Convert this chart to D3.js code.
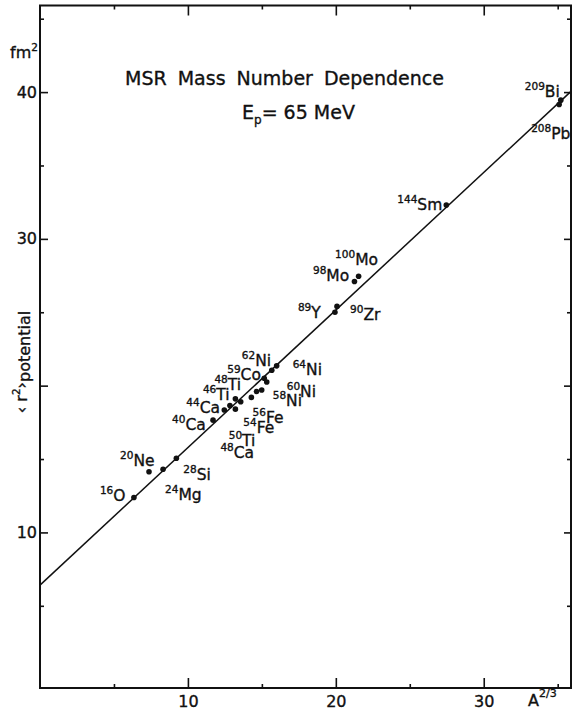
<!DOCTYPE html>
<html>
<head>
<meta charset="utf-8">
<script src="https://cdn.jsdelivr.net/npm/d3@7/dist/d3.min.js"></script>
<style>
  html, body { margin: 0; padding: 0; background: #fff; }
  svg { display: block; }
  text { font-family: "DejaVu Sans", sans-serif; fill: #111; stroke: #111; stroke-width: 0.35px; }
</style>
</head>
<body>
<svg id="chart" width="573" height="711"></svg>
<script>
// Nuclei measured at Ep = 65 MeV: mass number, element, A^(2/3), <r^2> of the potential (fm^2)
const massNumbers = [16, 20, 24, 28, 40, 44, 46, 48, 48, 50, 54, 56, 58, 59, 60, 62, 64, 89, 90, 98, 100, 144, 208, 209];
const elements    = ["O", "Ne", "Mg", "Si", "Ca", "Ca", "Ti", "Ti", "Ca", "Ti", "Fe", "Fe", "Ni", "Co", "Ni", "Ni", "Ni", "Y", "Zr", "Mo", "Mo", "Sm", "Pb", "Bi"];
const a23Values   = [6.35, 7.37, 8.32, 9.22, 11.70, 12.46, 12.84, 13.21, 13.21, 13.57, 14.29, 14.64, 14.99, 15.16, 15.33, 15.67, 16.00, 19.94, 20.08, 21.26, 21.54, 27.47, 35.10, 35.21];
const r2Values    = [12.38, 14.13, 14.3, 15.05, 17.65, 18.34, 18.65, 19.1, 18.4, 18.9, 19.2, 19.6, 19.7, 20.5, 20.25, 21.05, 21.35, 25.0, 25.4, 27.1, 27.45, 32.3, 39.15, 39.45];

// Straight-line fit through the points: [A^(2/3), <r^2>] at both ends
const fitLine = [[0, 6.41], [35.9, 40.05]];

// Axis ticks; the 20 fm^2 tick carries no number (the axis title sits there)
const xMajorTicks = [10, 20, 30];
const xMinorTicks = [5, 15, 25, 35];
const yMajorTicks = [10, 20, 30, 40];
const yTickLabels = ["10", "", "30", "40"];
const yMinorTicks = [5, 15, 25, 35, 45];

// Label placement relative to each point (px): dx, dy, anchor
const labelPlacement = [
  [-34, 3.5, "start"], [-29, -6, "start"], [2, 31, "start"], [7, 22, "start"],
  [-41, 10, "start"], [-38, 3, "start"], [-27, -5.5, "start"], [-21, -9, "start"],
  [-15, 49, "start"], [-12, 44, "start"], [-8, 35.5, "start"], [-4, 31, "start"],
  [11, 16, "start"], [-37, 2, "start"], [20, 15, "start"], [-30, -4, "start"],
  [16, 9, "start"], [-37, 6, "start"], [13, 14, "start"], [-41.5, 0, "start"],
  [-23.5, -11, "start"], [-4, 5, "end"], [-28, 34, "start"], [-36, -3, "start"]
];

const svg = d3.select("#chart");
const plotLeft = 40, plotRight = 571, plotTop = 5.5, plotBottom = 688;

const x = d3.scaleLinear().domain([0, 35.9]).range([plotLeft, plotRight]);
const y = d3.scaleLinear().domain([-0.6, 45.9]).range([plotBottom, plotTop]);

// Frame
svg.append("rect")
  .attr("x", plotLeft).attr("y", plotTop)
  .attr("width", plotRight - plotLeft).attr("height", plotBottom - plotTop)
  .attr("fill", "none").attr("stroke", "#111").attr("stroke-width", 2);

function styleAxis(g) {
  g.select(".domain").remove();
  g.selectAll(".tick line").attr("stroke", "#111").attr("stroke-width", 1.6);
  g.selectAll(".tick text").attr("font-size", 16).attr("fill", "#111")
    .attr("font-family", "DejaVu Sans, sans-serif");
}

// Bottom axis (labelled) and minor ticks
svg.append("g").attr("transform", `translate(0,${plotBottom})`)
  .call(d3.axisBottom(x).tickValues(xMajorTicks).tickSize(-10).tickPadding(8).tickFormat(d3.format("d")))
  .call(styleAxis);
svg.append("g").attr("transform", `translate(0,${plotBottom})`)
  .call(d3.axisBottom(x).tickValues(xMinorTicks).tickSize(-4).tickFormat(""))
  .call(styleAxis);

// Top axis ticks
svg.append("g").attr("transform", `translate(0,${plotTop})`)
  .call(d3.axisTop(x).tickValues(xMajorTicks).tickSize(-10).tickFormat(""))
  .call(styleAxis);
svg.append("g").attr("transform", `translate(0,${plotTop})`)
  .call(d3.axisTop(x).tickValues(xMinorTicks).tickSize(-4).tickFormat(""))
  .call(styleAxis);

// Left axis (labelled) and minor ticks
svg.append("g").attr("transform", `translate(${plotLeft},0)`)
  .call(d3.axisLeft(y).tickValues(yMajorTicks).tickSize(-8).tickPadding(3)
    .tickFormat((d, i) => yTickLabels[i]))
  .call(styleAxis);
svg.append("g").attr("transform", `translate(${plotLeft},0)`)
  .call(d3.axisLeft(y).tickValues(yMinorTicks).tickSize(-4).tickFormat(""))
  .call(styleAxis);

// Right axis ticks
svg.append("g").attr("transform", `translate(${plotRight},0)`)
  .call(d3.axisRight(y).tickValues(yMajorTicks).tickSize(-7).tickFormat(""))
  .call(styleAxis);
svg.append("g").attr("transform", `translate(${plotRight},0)`)
  .call(d3.axisRight(y).tickValues(yMinorTicks).tickSize(-4).tickFormat(""))
  .call(styleAxis);

// Fitted line
svg.append("path")
  .datum(fitLine)
  .attr("d", d3.line().x(d => x(d[0])).y(d => y(d[1])))
  .attr("fill", "none").attr("stroke", "#111").attr("stroke-width", 1.5);

// Points
const nuclei = massNumbers.map((a, i) => ({
  a, el: elements[i], xv: a23Values[i], yv: r2Values[i], place: labelPlacement[i]
}));

svg.append("g").selectAll("circle").data(nuclei).join("circle")
  .attr("cx", d => x(d.xv)).attr("cy", d => y(d.yv))
  .attr("r", 2.8).attr("fill", "#111");

// Point labels: mass number as a raised prefix, then the element symbol
const labels = svg.append("g").selectAll("text").data(nuclei).join("text")
  .attr("x", d => x(d.xv) + d.place[0])
  .attr("y", d => y(d.yv) + d.place[1])
  .attr("text-anchor", d => d.place[2]);
labels.append("tspan").attr("font-size", 10.5).attr("dy", -7).text(d => d.a);
labels.append("tspan").attr("font-size", 15.5).attr("dy", 7).text(d => d.el);

// Title block
svg.append("text")
  .attr("x", 125).attr("y", 85)
  .attr("font-size", 19).attr("word-spacing", 5)
  .text("MSR Mass Number Dependence");
const ep = svg.append("text").attr("x", 242).attr("y", 119).attr("font-size", 19);
ep.append("tspan").text("E");
ep.append("tspan").attr("font-size", 12).attr("dy", 5).text("p");
ep.append("tspan").attr("dy", -5).text("= 65 MeV");

// Axis titles
const fm = svg.append("text").attr("x", 10).attr("y", 58).attr("font-size", 16);
fm.append("tspan").text("fm");
fm.append("tspan").attr("font-size", 10.5).attr("dy", -7).text("2");

const yt = svg.append("text")
  .attr("transform", "translate(27,362) rotate(-90)")
  .attr("text-anchor", "middle").attr("font-size", 16);
yt.append("tspan").text("\u2039 r");
yt.append("tspan").attr("font-size", 10.5).attr("dy", -7).text("2");
yt.append("tspan").attr("dy", 7).text("\u203A");
yt.append("tspan").attr("dy", 3).text("potential");

const ax = svg.append("text").attr("x", 528).attr("y", 706).attr("font-size", 16);
ax.append("tspan").text("A");
ax.append("tspan").attr("font-size", 11).attr("dy", -9).text("2/3");
</script>
</body>
</html>
